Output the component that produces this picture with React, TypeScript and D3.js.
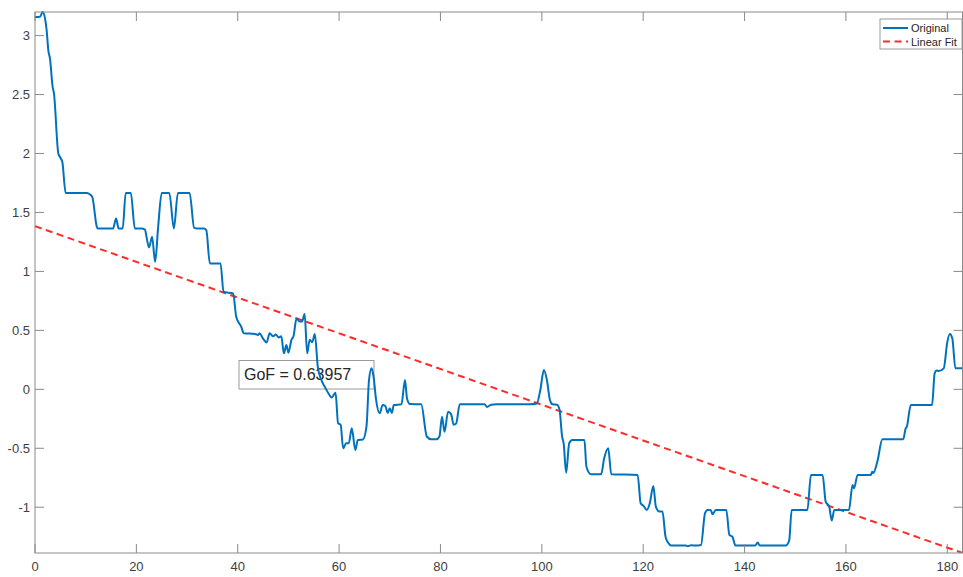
import React from "react";
import * as d3 from "d3";

const xs = [0,1,1.5,2,2.3,2.63,2.96,3.48,3.74,4.6,4.93,5.39,6.04,10.3,10.8,11.3,12.2,12.4,15.4,16.0,16.5,17.3,17.9,18.9,19.7,21.0,21.7,22.0,22.5,23.1,23.7,24.3,25.0,26.5,27.4,28.2,30.5,31.4,32.0,33.3,33.8,34.5,36.6,37.2,39.1,39.7,40.7,41.2,43.4,44.0,44.3,45.0,45.7,46.3,47.0,47.5,48.1,48.6,49.1,49.6,50.0,50.6,51.0,51.6,52.2,52.7,53.2,53.7,54.2,54.7,55.2,55.8,56.5,57.2,58.1,58.5,59.3,59.8,60.3,60.8,61.4,61.9,62.5,63.2,63.7,64.7,65.4,65.9,66.4,66.8,67.3,68.0,68.6,69.1,69.6,70.0,70.4,70.8,72.3,73.0,73.4,74.0,76.2,77.3,78.2,79.2,79.8,80.3,80.8,81.5,82.1,82.6,83.1,83.8,88.7,89.2,90.0,91.0,97.6,99.0,99.7,100.4,101.0,101.6,102.1,103.0,103.5,104.0,104.3,104.8,105.4,106.0,108.4,108.8,109.7,111.7,112.3,113.1,113.7,118.9,119.5,120.1,120.7,121.3,122.0,122.5,123.2,123.8,124.4,124.9,125.5,128.4,128.8,129.5,130.4,131.4,132.2,132.7,133.3,133.7,134.3,136.4,137.0,137.6,138.2,142.1,142.6,143.0,148.1,148.8,149.3,152.4,153.1,155.4,156.0,156.7,157.2,157.7,160.6,161.3,161.6,162.3,164.9,165.2,165.4,166.2,167.2,171.3,171.8,172.0,172.8,177.0,177.5,177.9,178.3,179.3,180.0,180.5,181.0,181.6,183];
const ys = [3.158,3.16,3.2,3.14,3.045,2.875,2.805,2.565,2.51,2.0,1.97,1.93,1.666,1.666,1.655,1.632,1.378,1.364,1.364,1.449,1.364,1.364,1.666,1.666,1.364,1.364,1.355,1.293,1.203,1.293,1.081,1.378,1.666,1.666,1.364,1.666,1.666,1.37,1.364,1.364,1.35,1.068,1.068,0.827,0.813,0.615,0.53,0.475,0.47,0.46,0.475,0.43,0.398,0.475,0.45,0.465,0.44,0.45,0.305,0.375,0.31,0.42,0.45,0.6,0.575,0.575,0.638,0.305,0.42,0.4,0.469,0.19,0.079,0.02,-0.048,-0.07,-0.03,-0.288,-0.3,-0.5,-0.458,-0.458,-0.331,-0.514,-0.43,-0.425,-0.317,0.079,0.178,0.107,-0.09,-0.203,-0.133,-0.14,-0.2,-0.16,-0.2,-0.133,-0.127,0.079,-0.077,-0.125,-0.127,-0.4,-0.424,-0.424,-0.4,-0.232,-0.36,-0.19,-0.21,-0.3,-0.29,-0.127,-0.127,-0.15,-0.13,-0.127,-0.127,-0.12,-0.006,0.164,0.079,-0.09,-0.127,-0.13,-0.175,-0.4,-0.457,-0.707,-0.457,-0.43,-0.43,-0.656,-0.72,-0.72,-0.585,-0.5,-0.72,-0.726,-0.966,-0.99,-1.023,-0.966,-0.82,-0.995,-1.037,-1.037,-1.249,-1.3,-1.325,-1.325,-1.33,-1.322,-1.325,-1.32,-1.05,-1.023,-1.023,-1.06,-1.023,-1.023,-1.235,-1.25,-1.325,-1.325,-1.3,-1.325,-1.325,-1.283,-1.023,-1.023,-0.726,-0.726,-0.952,-0.995,-1.113,-1.023,-1.023,-0.811,-0.84,-0.726,-0.726,-0.7,-0.71,-0.613,-0.424,-0.424,-0.33,-0.32,-0.133,-0.133,0.136,0.16,0.155,0.178,0.4,0.469,0.43,0.178,0.178];

const fitX = [0, 183];
const fitY = [1.384, -1.388];

const xTicks = [0, 20, 40, 60, 80, 100, 120, 140, 160, 180];
const yTicks = [-1, -0.5, 0, 0.5, 1, 1.5, 2, 2.5, 3];
const legendLabels = ["Original", "Linear Fit"];
const annotation = "GoF = 0.63957";

const W = 963, H = 577;
const L = 35, R = 962.5, T = 12, B = 553;

export default function App() {
  const x = d3.scaleLinear().domain([0, 183]).range([L, R]);
  const y = d3.scaleLinear().domain([-1.388, 3.2]).range([B, T]);
  const pts = xs.map((v, i) => [v, ys[i]] as [number, number]);
  const line = d3.line<[number, number]>().x(d => x(d[0])).y(d => y(d[1])).curve(d3.curveMonotoneX);
  const fitPts = fitX.map((v, i) => [v, fitY[i]] as [number, number]);
  const fitLine = d3.line<[number, number]>().x(d => x(d[0])).y(d => y(d[1]));
  const axisColor = "#8a8a8a";
  const textColor = "#404040";
  const font = "'Liberation Sans', Arial, Helvetica, sans-serif";
  const tl = 9;
  return (
    <svg width={W} height={H} style={{ position: "absolute", left: 0, top: 0 }} fontFamily={font}>
      <defs>
        <clipPath id="plotclip">
          <rect x={L} y={T - 2} width={R - L} height={B - T + 2} />
        </clipPath>
      </defs>
      <rect x={0} y={0} width={W} height={H} fill="#fff" />
      {/* annotation (underneath the lines) */}
      <rect x={239} y={360.5} width={135} height={28.5} fill="#fff" stroke="#9a9a9a" strokeWidth={1} />
      <text x={244} y={380} fontSize={16} fill="#262626">{annotation}</text>
      <g clipPath="url(#plotclip)">
        <path d={fitLine(fitPts) || ""} fill="none" stroke="#ff2a2a" strokeWidth={2} strokeDasharray="7,4.5" />
        <path d={line(pts) || ""} fill="none" stroke="#0072BD" strokeWidth={2} strokeLinejoin="round" />
      </g>
      {/* axes box */}
      <rect x={L} y={T} width={R - L} height={B - T} fill="none" stroke={axisColor} strokeWidth={1} />
      {xTicks.map(t => (
        <g key={"xt" + t}>
          <line x1={x(t)} x2={x(t)} y1={B} y2={B - tl} stroke={axisColor} />
          <line x1={x(t)} x2={x(t)} y1={T} y2={T + tl} stroke={axisColor} />
          <text x={x(t)} y={571} textAnchor="middle" fontSize={13} fill={textColor}>{t}</text>
        </g>
      ))}
      {yTicks.map(t => (
        <g key={"yt" + t}>
          <line x1={L} x2={L + tl} y1={y(t)} y2={y(t)} stroke={axisColor} />
          <line x1={R} x2={R - tl} y1={y(t)} y2={y(t)} stroke={axisColor} />
          <text x={30} y={y(t) + 4.5} textAnchor="end" fontSize={13} fill={textColor}>{t}</text>
        </g>
      ))}
      {/* legend */}
      <rect x={880} y={19} width={82} height={30} fill="#fff" stroke="#9a9a9a" strokeWidth={1} />
      <line x1={883} x2={908} y1={28} y2={28} stroke="#0072BD" strokeWidth={2} />
      <line x1={883} x2={908} y1={41.5} y2={41.5} stroke="#ff2a2a" strokeWidth={2} strokeDasharray="7,4.5" />
      <text x={911} y={32} fontSize={11} fill="#262626">{legendLabels[0]}</text>
      <text x={911} y={45.5} fontSize={11} fill="#262626">{legendLabels[1]}</text>
    </svg>
  );
}
